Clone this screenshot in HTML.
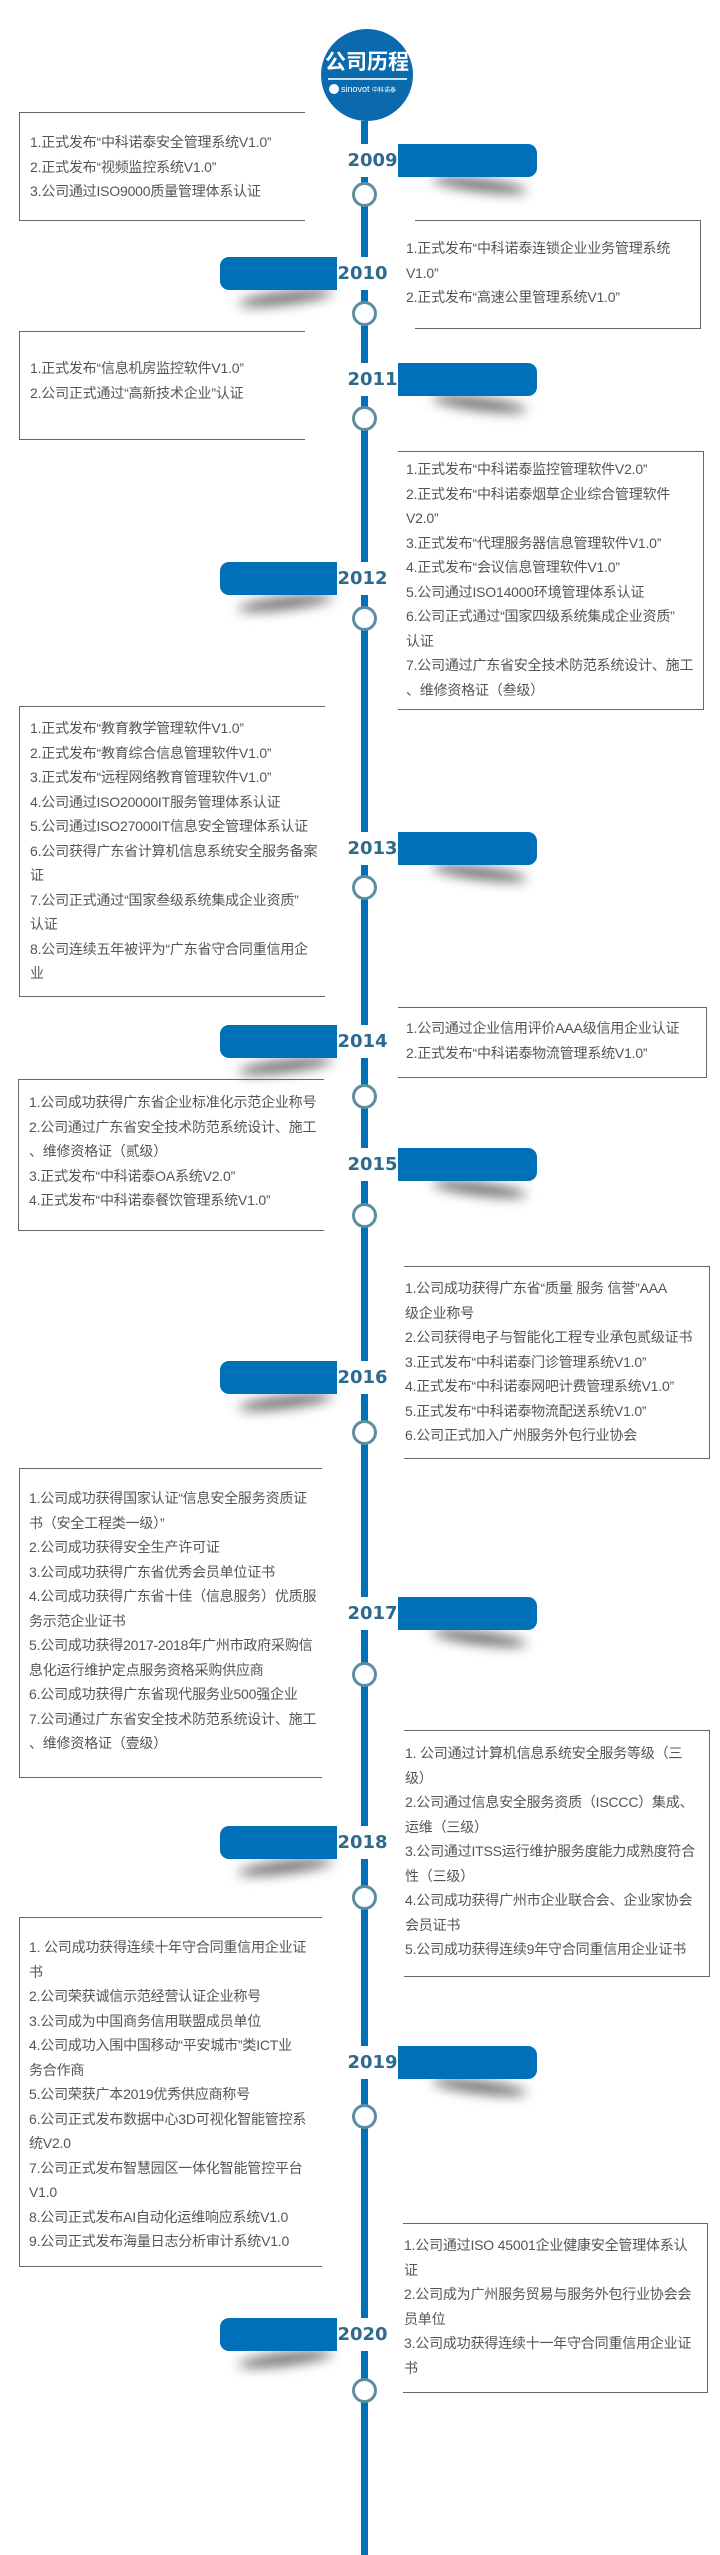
<!DOCTYPE html>
<html><head><meta charset="utf-8">
<style>
html,body{margin:0;padding:0;background:#fff;}
body{width:720px;height:2555px;position:relative;overflow:hidden;}
.vl{position:absolute;left:361px;top:121px;width:7px;height:2434px;background:#0070b8;}
.box{position:absolute;border:1px solid #666;box-sizing:border-box;}
.L{border-right:none}.R{border-left:none}
.t{position:absolute;font:14px/24.5px "Liberation Sans","Noto Sans CJK SC",sans-serif;color:#555;white-space:nowrap;letter-spacing:-0.2px}
.tab{position:absolute;background:#0070b8;height:33px;width:139px}
.tr{left:398px;border-radius:0 9px 9px 0}
.tl{left:220px;width:117px;border-radius:9px 0 0 9px}
.yr{position:absolute;background:#fff;height:33px;line-height:33px;font:bold 18px/33px "DejaVu Sans","Liberation Sans",sans-serif;color:#2d6a8c;text-align:center}
.yrR{left:347px;width:51px}
.yrL{left:337px;width:51px}
.sh{position:absolute;height:12px;width:95px;background:rgba(0,0,0,.6);filter:blur(6px);border-radius:50%}
.shR{left:432px;transform:rotate(7deg)}
.shL{left:238px;transform:rotate(-7deg)}
.nd{position:absolute;left:352px;width:19px;height:19px;border:3px solid #5b8fa0;border-radius:50%;background:#fff}
</style></head><body>
<div class="vl"></div>
<!-- header -->
<div style="position:absolute;left:321px;top:29px;width:92px;height:92px;border-radius:50%;background:#0a6aad;"></div>
<div style="position:absolute;left:321px;top:50px;width:92px;text-align:center;font:bold 21px/26px 'Liberation Sans','Noto Sans CJK SC',sans-serif;color:#fff;">公司历程</div>
<div style="position:absolute;left:328px;top:78px;width:79px;height:2px;background:#cfe3f2;"></div>
<div style="position:absolute;left:329px;top:84px;width:10px;height:10px;border-radius:50%;background:#fff;"></div>
<div style="position:absolute;left:341px;top:82px;font:9px/14px 'Liberation Sans','Noto Sans CJK SC',sans-serif;color:#fff;white-space:nowrap;">sinovot <span style="font-size:6px">中科诺泰</span></div>

<!-- 2009 -->
<div class="box L" style="left:19px;top:112px;width:286px;height:109px"></div>
<div class="t" style="left:30px;top:130px">1.正式发布“中科诺泰安全管理系统V1.0”<br>2.正式发布“视频监控系统V1.0”<br>3.公司通过ISO9000质量管理体系认证</div>
<div class="sh shR" style="top:179px"></div>
<div class="tab tr" style="top:144px"></div>
<div class="yr yrR" style="top:144px">2009</div>
<div class="nd" style="top:182px"></div>

<!-- 2010 -->
<div class="box R" style="left:415px;top:220px;width:286px;height:109px"></div>
<div class="t" style="left:406px;top:236px">1.正式发布“中科诺泰连锁企业业务管理系统<br>V1.0”<br>2.正式发布“高速公里管理系统V1.0”</div>
<div class="sh shL" style="top:292px"></div>
<div class="tab tl" style="top:257px"></div>
<div class="yr yrL" style="top:257px">2010</div>
<div class="nd" style="top:301px"></div>

<!-- 2011 -->
<div class="box L" style="left:19px;top:331px;width:286px;height:109px"></div>
<div class="t" style="left:30px;top:356px">1.正式发布“信息机房监控软件V1.0”<br>2.公司正式通过“高新技术企业”认证</div>
<div class="sh shR" style="top:398px"></div>
<div class="tab tr" style="top:363px"></div>
<div class="yr yrR" style="top:363px">2011</div>
<div class="nd" style="top:406px"></div>

<!-- 2012 -->
<div class="box R" style="left:398px;top:451px;width:306px;height:259px"></div>
<div class="t" style="left:406px;top:457px">1.正式发布“中科诺泰监控管理软件V2.0”<br>2.正式发布“中科诺泰烟草企业综合管理软件<br>V2.0”<br>3.正式发布“代理服务器信息管理软件V1.0”<br>4.正式发布“会议信息管理软件V1.0”<br>5.公司通过ISO14000环境管理体系认证<br>6.公司正式通过“国家四级系统集成企业资质”<br>认证<br>7.公司通过广东省安全技术防范系统设计、施工<br>、维修资格证（叁级）</div>
<div class="sh shL" style="top:597px"></div>
<div class="tab tl" style="top:562px"></div>
<div class="yr yrL" style="top:562px">2012</div>
<div class="nd" style="top:606px"></div>

<!-- 2013 -->
<div class="box L" style="left:19px;top:706px;width:306px;height:291px"></div>
<div class="t" style="left:30px;top:716px">1.正式发布“教育教学管理软件V1.0”<br>2.正式发布“教育综合信息管理软件V1.0”<br>3.正式发布“远程网络教育管理软件V1.0”<br>4.公司通过ISO20000IT服务管理体系认证<br>5.公司通过ISO27000IT信息安全管理体系认证<br>6.公司获得广东省计算机信息系统安全服务备案<br>证<br>7.公司正式通过“国家叁级系统集成企业资质”<br>认证<br>8.公司连续五年被评为“广东省守合同重信用企<br>业</div>
<div class="sh shR" style="top:867px"></div>
<div class="tab tr" style="top:832px"></div>
<div class="yr yrR" style="top:832px">2013</div>
<div class="nd" style="top:875px"></div>

<!-- 2014 -->
<div class="box R" style="left:398px;top:1007px;width:309px;height:71px"></div>
<div class="t" style="left:406px;top:1016px">1.公司通过企业信用评价AAA级信用企业认证<br>2.正式发布“中科诺泰物流管理系统V1.0”</div>
<div class="sh shL" style="top:1060px"></div>
<div class="tab tl" style="top:1025px"></div>
<div class="yr yrL" style="top:1025px">2014</div>
<div class="nd" style="top:1084px"></div>

<!-- 2015 -->
<div class="box L" style="left:18px;top:1079px;width:306px;height:152px"></div>
<div class="t" style="left:29px;top:1090px">1.公司成功获得广东省企业标准化示范企业称号<br>2.公司通过广东省安全技术防范系统设计、施工<br>、维修资格证（贰级）<br>3.正式发布“中科诺泰OA系统V2.0”<br>4.正式发布“中科诺泰餐饮管理系统V1.0”</div>
<div class="sh shR" style="top:1183px"></div>
<div class="tab tr" style="top:1148px"></div>
<div class="yr yrR" style="top:1148px">2015</div>
<div class="nd" style="top:1203px"></div>

<!-- 2016 -->
<div class="box R" style="left:404px;top:1266px;width:306px;height:193px"></div>
<div class="t" style="left:405px;top:1276px">1.公司成功获得广东省“质量 服务 信誉”AAA<br>级企业称号<br>2.公司获得电子与智能化工程专业承包贰级证书<br>3.正式发布“中科诺泰门诊管理系统V1.0”<br>4.正式发布“中科诺泰网吧计费管理系统V1.0”<br>5.正式发布“中科诺泰物流配送系统V1.0”<br>6.公司正式加入广州服务外包行业协会</div>
<div class="sh shL" style="top:1396px"></div>
<div class="tab tl" style="top:1361px"></div>
<div class="yr yrL" style="top:1361px">2016</div>
<div class="nd" style="top:1420px"></div>

<!-- 2017 -->
<div class="box L" style="left:19px;top:1468px;width:303px;height:310px"></div>
<div class="t" style="left:29px;top:1486px">1.公司成功获得国家认证“信息安全服务资质证<br>书（安全工程类一级）”<br>2.公司成功获得安全生产许可证<br>3.公司成功获得广东省优秀会员单位证书<br>4.公司成功获得广东省十佳（信息服务）优质服<br>务示范企业证书<br>5.公司成功获得2017-2018年广州市政府采购信<br>息化运行维护定点服务资格采购供应商<br>6.公司成功获得广东省现代服务业500强企业<br>7.公司通过广东省安全技术防范系统设计、施工<br>、维修资格证（壹级）</div>
<div class="sh shR" style="top:1632px"></div>
<div class="tab tr" style="top:1597px"></div>
<div class="yr yrR" style="top:1597px">2017</div>
<div class="nd" style="top:1662px"></div>

<!-- 2018 -->
<div class="box R" style="left:404px;top:1730px;width:306px;height:247px"></div>
<div class="t" style="left:405px;top:1741px">1. 公司通过计算机信息系统安全服务等级（三<br>级）<br>2.公司通过信息安全服务资质（ISCCC）集成、<br>运维（三级）<br>3.公司通过ITSS运行维护服务度能力成熟度符合<br>性（三级）<br>4.公司成功获得广州市企业联合会、企业家协会<br>会员证书<br>5.公司成功获得连续9年守合同重信用企业证书</div>
<div class="sh shL" style="top:1861px"></div>
<div class="tab tl" style="top:1826px"></div>
<div class="yr yrL" style="top:1826px">2018</div>
<div class="nd" style="top:1885px"></div>

<!-- 2019 -->
<div class="box L" style="left:19px;top:1917px;width:303px;height:350px"></div>
<div class="t" style="left:29px;top:1935px">1. 公司成功获得连续十年守合同重信用企业证<br>书<br>2.公司荣获诚信示范经营认证企业称号<br>3.公司成为中国商务信用联盟成员单位<br>4.公司成功入围中国移动“平安城市”类ICT业<br>务合作商<br>5.公司荣获广本2019优秀供应商称号<br>6.公司正式发布数据中心3D可视化智能管控系<br>统V2.0<br>7.公司正式发布智慧园区一体化智能管控平台<br>V1.0<br>8.公司正式发布AI自动化运维响应系统V1.0<br>9.公司正式发布海量日志分析审计系统V1.0</div>
<div class="sh shR" style="top:2081px"></div>
<div class="tab tr" style="top:2046px"></div>
<div class="yr yrR" style="top:2046px">2019</div>
<div class="nd" style="top:2104px"></div>

<!-- 2020 -->
<div class="box R" style="left:403px;top:2223px;width:305px;height:170px"></div>
<div class="t" style="left:404px;top:2233px">1.公司通过ISO 45001企业健康安全管理体系认<br>证<br>2.公司成为广州服务贸易与服务外包行业协会会<br>员单位<br>3.公司成功获得连续十一年守合同重信用企业证<br>书</div>
<div class="sh shL" style="top:2353px"></div>
<div class="tab tl" style="top:2318px"></div>
<div class="yr yrL" style="top:2318px">2020</div>
<div class="nd" style="top:2378px"></div>
</body></html>
